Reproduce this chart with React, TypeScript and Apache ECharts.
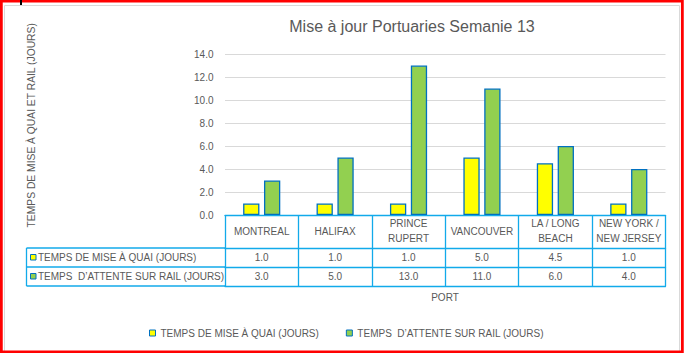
import React, { useEffect, useRef } from "react";
import * as echarts from "echarts";

const titleText = "Mise à jour Portuaries Semanie 13";
const ports = ["MONTREAL", "HALIFAX", "PRINCE\nRUPERT", "VANCOUVER", "LA / LONG\nBEACH", "NEW YORK /\nNEW JERSEY"];
const dockName = "TEMPS DE MISE À QUAI (JOURS)";
const railName = "TEMPS  D’ATTENTE SUR RAIL (JOURS)";
const dockValues = [1.0, 1.0, 1.0, 5.0, 4.5, 1.0];
const railValues = [3.0, 5.0, 13.0, 11.0, 6.0, 4.0];
const yTitle = "TEMPS DE MISE À QUAI ET RAIL (JOURS)";
const xTitle = "PORT";

const FONT = "'Liberation Sans', Arial, sans-serif";
const TXT = "#595959";
const TABLE = "#12AAEA";
const BORDER = "#0070C0";
const YELLOW = "#FFFF00";
const GREEN = "#92D050";

export default function App() {
  const ref = useRef<HTMLDivElement>(null);
  useEffect(() => {
    if (!ref.current) return;
    const chart = echarts.init(ref.current, null, { renderer: "svg" });
    const tableLine = { lineStyle: { color: TABLE, width: 1.3 } };
    const rowY = [257.5, 276.5];
    const names = [dockName, railName];
    const colors = [YELLOW, GREEN];
    const option: any = {
      animation: false,
      backgroundColor: "#fff",
      grid: { left: 225, right: 18.5, top: 54, bottom: 138, containLabel: false },
      legend: {
        left: 144,
        top: 323,
        icon: "rect",
        itemWidth: 6,
        itemHeight: 6,
        itemGap: 27,
        itemStyle: { borderWidth: 1, borderColor: BORDER },
        textStyle: { color: TXT, fontSize: 10, fontFamily: FONT },
        data: [dockName, railName],
      },
      xAxis: [
        {
          type: "category",
          data: ports,
          position: "bottom",
          axisLine: { show: true, ...tableLine },
          axisTick: { show: true, alignWithLabel: false, length: 71, ...tableLine },
          axisLabel: {
            interval: 0,
            margin: 16,
            verticalAlign: "middle",
            lineHeight: 14.5,
            color: TXT,
            fontSize: 10,
            fontFamily: FONT,
            align: "center",
          },
          splitLine: { show: false },
        },
        {
          type: "category",
          data: dockValues.map((v) => v.toFixed(1)),
          position: "bottom",
          offset: 33,
          axisLine: { show: true, ...tableLine },
          axisTick: { show: false },
          axisLabel: { interval: 0, margin: 9.5, verticalAlign: "middle", color: TXT, fontSize: 10, fontFamily: FONT },
        },
        {
          type: "category",
          data: railValues.map((v) => v.toFixed(1)),
          position: "bottom",
          offset: 52,
          axisLine: { show: true, ...tableLine },
          axisTick: { show: false },
          axisLabel: { interval: 0, margin: 9.5, verticalAlign: "middle", color: TXT, fontSize: 10, fontFamily: FONT },
        },
        {
          type: "category",
          data: ports,
          position: "bottom",
          offset: 71,
          axisLine: { show: true, ...tableLine },
          axisTick: { show: false },
          axisLabel: { show: false },
        },
      ],
      yAxis: {
        type: "value",
        min: 0,
        max: 14,
        interval: 2,
        axisLine: { show: false },
        axisTick: { show: false },
        axisLabel: {
          margin: 11.5,
          color: TXT,
          fontSize: 10,
          fontFamily: FONT,
          formatter: (v: number) => v.toFixed(1),
        },
        splitLine: { lineStyle: { color: "#D9D9D9", width: 1 } },
      },
      series: [
        {
          name: dockName,
          type: "bar",
          data: dockValues,
          barWidth: 16.3,
          barGap: "28%",
          itemStyle: { color: YELLOW, borderColor: BORDER, borderWidth: 1.3 },
        },
        {
          name: railName,
          type: "bar",
          data: railValues,
          barWidth: 16.3,
          barGap: "28%",
          itemStyle: { color: GREEN, borderColor: BORDER, borderWidth: 1.3 },
        },
      ],
      graphic: [
        { type: "rect", shape: { x: 4.5, y: 5.5, width: 675, height: 350 }, style: { fill: "none", stroke: "#D9D9D9", lineWidth: 1 }, z: 100 },
        { type: "rect", shape: { x: 1.35, y: 1, width: 681, height: 350.8 }, style: { fill: "none", stroke: "#FF0000", lineWidth: 2.8 }, z: 101 },
        { type: "rect", shape: { x: 20, y: 0, width: 2, height: 5 }, style: { fill: "#000" }, z: 102 },
        {
          type: "text",
          x: 412,
          y: 26.5,
          style: { text: titleText, fill: TXT, fontSize: 16, fontFamily: FONT, align: "center", verticalAlign: "middle" },
        },
        {
          type: "text",
          x: 31,
          y: 125.3,
          rotation: Math.PI / 2,
          style: { text: yTitle, fill: TXT, fontSize: 10.3, fontFamily: FONT, align: "center", verticalAlign: "middle" },
        },
        {
          type: "text",
          x: 445,
          y: 297.5,
          style: { text: xTitle, fill: TXT, fontSize: 10, fontFamily: FONT, align: "center", verticalAlign: "middle" },
        },
        ...[248, 267, 286].map((y) => ({
          type: "line",
          shape: { x1: 26.5, y1: y, x2: 225, y2: y },
          style: { stroke: TABLE, lineWidth: 1.3 },
        })),
        { type: "line", shape: { x1: 26.5, y1: 248, x2: 26.5, y2: 286 }, style: { stroke: TABLE, lineWidth: 1.3 } },
        ...names.flatMap((n, i) => [
          {
            type: "rect",
            shape: { x: 30.5, y: rowY[i] - 3, width: 5.5, height: 5.5 },
            style: { fill: colors[i], stroke: BORDER, lineWidth: 1 },
          },
          {
            type: "text",
            x: 38,
            y: rowY[i],
            style: { text: n, fill: TXT, fontSize: 10, fontFamily: FONT, align: "left", verticalAlign: "middle" },
          },
        ]),
      ],
    };
    chart.setOption(option);
    return () => chart.dispose();
  }, []);
  return <div ref={ref} style={{ position: "fixed", left: 0, top: 0, width: 684, height: 353 }} />;
}
